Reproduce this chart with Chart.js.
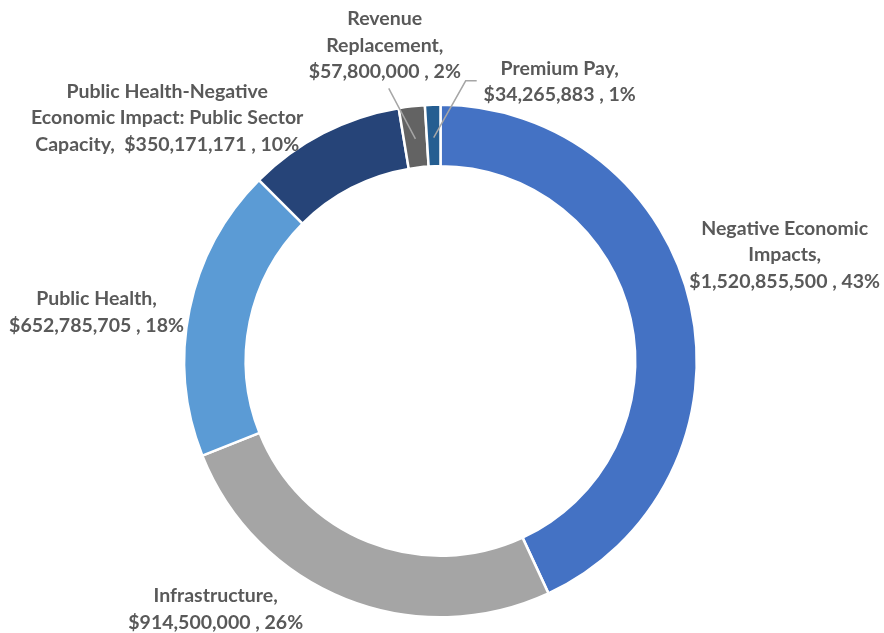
<!DOCTYPE html>
<html>

<head>
  <title>ARPA allocations</title>
  <script src="https://cdn.jsdelivr.net/npm/chart.js@4.4.0/dist/chart.umd.min.js"></script>
  <style>
    body {
      margin: 0;
      background-color: white;
    }

    .chart-container {
      width: 884px;
      height: 633px;
    }
  </style>
</head>

<body>
  <div class="chart-container">
    <canvas id="allocChart"></canvas>
  </div>

  <script>
    // Categories (\n = where the label wraps)
    const categories = [
      'Negative Economic\nImpacts',
      'Infrastructure',
      'Public Health',
      'Public Health-Negative\nEconomic Impact: Public Sector\nCapacity',
      'Revenue\nReplacement',
      'Premium Pay'
    ];
    const amounts = [1520855500, 914500000, 652785705, 350171171, 57800000, 34265883];
    const sliceColors = ['#4472C4', '#A5A5A5', '#5B9BD5', '#264478', '#636363', '#255E91'];

    // label placement relative to the outer mid point of each arc
    const labelLayout = [
      { dx: 94, dy: -51, sep: '\n' },
      { dx: -130, dy: 10, sep: '\n' },
      { dx: -93, dy: 3, sep: '\n' },
      { dx: -156, dy: -15, sep: '  ' },
      { dx: -27, dy: -61, sep: '\n', leader: [[4, 43]] },
      { dx: 127, dy: -23, sep: '\n', leader: [[-94, -1], [-83, -1]] }
    ];

    const total = amounts.reduce((a, b) => a + b, 0);

    function fmtMoney(v) {
      return '$' + v.toLocaleString('en-US');
    }

    const labelPlugin = {
      id: 'sliceLabels',
      afterDraw(chart) {
        const ctx = chart.ctx;
        const arcs = chart.getDatasetMeta(0).data;
        ctx.save();
        ctx.font = 'bold 19.5px Lato, sans-serif';
        ctx.fillStyle = '#595959';
        ctx.textAlign = 'center';
        ctx.textBaseline = 'middle';
        const lineH = 26.5;
        arcs.forEach((arc, i) => {
          const p = arc.getProps(['x', 'y', 'startAngle', 'endAngle', 'outerRadius', 'innerRadius'], true);
          const mid = (p.startAngle + p.endAngle) / 2;
          const ox = p.x + Math.cos(mid) * p.outerRadius;
          const oy = p.y + Math.sin(mid) * p.outerRadius;
          const lay = labelLayout[i];
          const cx = ox + lay.dx;
          const cy = oy + lay.dy;
          const pct = Math.round(amounts[i] / total * 100);
          const text = categories[i] + ',' + lay.sep + fmtMoney(amounts[i]) + ' , ' + pct + '%';
          const lines = text.split('\n');
          const top = cy - (lines.length - 1) * lineH / 2;
          lines.forEach((ln, k) => ctx.fillText(ln, cx, top + k * lineH));

          if (lay.leader) {
            const r = (p.outerRadius + p.innerRadius) / 2 - 2;
            ctx.beginPath();
            ctx.strokeStyle = '#A6A6A6';
            ctx.lineWidth = 1.5;
            ctx.moveTo(p.x + Math.cos(mid) * r, p.y + Math.sin(mid) * r);
            lay.leader.forEach(pt => ctx.lineTo(cx + pt[0], cy + pt[1]));
            ctx.stroke();
          }
        });
        ctx.restore();
      }
    };

    const ctx = document.getElementById('allocChart').getContext('2d');
    new Chart(ctx, {
      type: 'doughnut',
      data: {
        labels: categories.map(c => c.replace(/\n/g, ' ')),
        datasets: [{
          data: amounts,
          backgroundColor: sliceColors,
          borderColor: '#ffffff',
          borderWidth: 2.5
        }]
      },
      options: {
        responsive: true,
        maintainAspectRatio: false,
        animation: false,
        cutout: '76%',
        layout: {
          padding: { left: 183, right: 186, top: 103, bottom: 14 }
        },
        plugins: {
          legend: { display: false },
          tooltip: { enabled: false }
        }
      },
      plugins: [labelPlugin]
    });
  </script>
</body>

</html>
